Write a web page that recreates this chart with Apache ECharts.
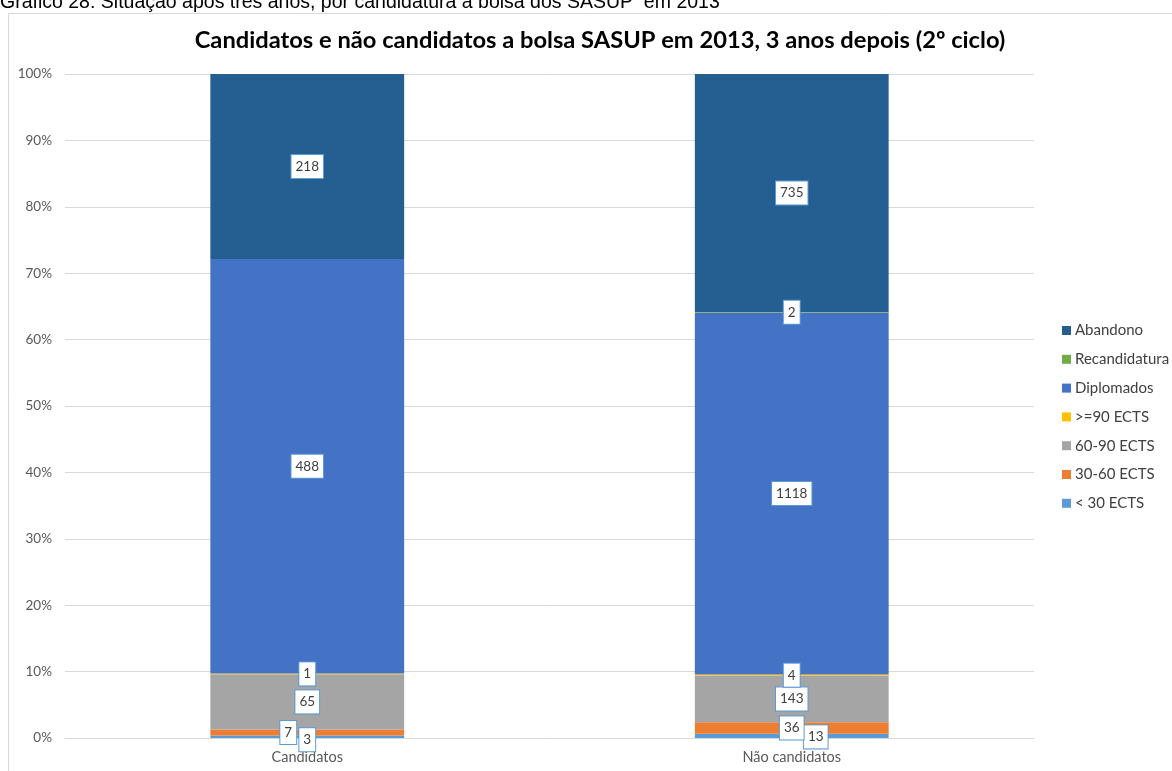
<!DOCTYPE html>
<html>
<head>
<meta charset="utf-8">
<title>Candidatos e não candidatos a bolsa SASUP</title>
<script src="https://cdn.jsdelivr.net/npm/echarts@6/dist/echarts.min.js"></script>
<style>
  html, body { margin: 0; padding: 0; background: #fff; }
  #chart { width: 1172px; height: 771px; }
</style>
</head>
<body>
<div id="chart"></div>
<script>
// categorias e contagens
const categories = ['Candidatos', 'Não candidatos']
const seriesNames = ['< 30 ECTS', '30-60 ECTS', '60-90 ECTS', '>=90 ECTS', 'Diplomados', 'Recandidatura', 'Abandono']
const lt30 = [3, 13]
const ects30_60 = [7, 36]
const ects60_90 = [65, 143]
const ge90 = [1, 4]
const diplomados = [488, 1118]
const recandidatura = [0, 2]
const abandono = [218, 735]
const yTicks = [0, 10, 20, 30, 40, 50, 60, 70, 80, 90, 100]

const counts = [lt30, ects30_60, ects60_90, ge90, diplomados, recandidatura, abandono]
const colors = ['#5b9bd5', '#ed7d31', '#a5a5a5', '#ffc000', '#4472c4', '#70ad47', '#255e91']
// deslocamento de rótulos sobrepostos (como no Excel)
const labelOffsets = {'0-0': [0, 3], '1-0': [-19, 0], '0-1': [24, 1]}

const totals = categories.map((c, i) => counts.reduce((s, arr) => s + arr[i], 0))

const chart = echarts.init(document.getElementById('chart'))

const series = seriesNames.map((name, si) => ({
  name,
  type: 'bar',
  stack: 'total',
  barWidth: '40%',
  itemStyle: {color: colors[si]},
  label: {
    show: true,
    position: 'inside',
    formatter: p => p.data.count,
    color: '#404040',
    fontFamily: 'Lato',
    fontSize: 13.5,
    backgroundColor: '#fff',
    borderColor: '#5b9bd5',
    borderWidth: 1,
    padding: [5, 4, 4, 4]
  },
  data: counts[si].map((n, ci) => {
    const item = {value: n / totals[ci] * 100, count: n}
    const off = labelOffsets[si + '-' + ci]
    if (n === 0) item.label = {show: false}
    else if (off) item.label = {offset: off}
    return item
  })
}))

const option = {
  animation: false,
  textStyle: {fontFamily: 'Lato'},
  title: {
    text: 'Candidatos e não candidatos a bolsa SASUP em 2013, 3 anos depois (2º ciclo)',
    left: 595,
    textAlign: 'center',
    top: 23,
    textStyle: {fontFamily: 'Lato', fontWeight: 'bold', fontSize: 23.7, color: '#000'}
  },
  graphic: [
    {
      type: 'rect',
      shape: {x: 8.5, y: 13.5, width: 1200, height: 800},
      style: {fill: null, stroke: '#d9d9d9', lineWidth: 1},
      silent: true
    },
    {
      type: 'text',
      x: 0,
      y: 13,
      style: {
        text: 'Gráfico 28: Situação após três anos, por candidatura à bolsa dos SASUP  em 2013',
        fontFamily: 'Liberation Sans',
        fontSize: 19.5,
        fill: '#000',
        verticalAlign: 'bottom'
      }
    }
  ],
  legend: {
    orient: 'vertical',
    left: 1057,
    top: 318,
    itemWidth: 9,
    itemHeight: 9,
    itemGap: 13.8,
    icon: 'rect',
    data: seriesNames.slice().reverse(),
    textStyle: {fontFamily: 'Lato', fontSize: 15, color: '#404040', padding: [0, 0, 0, -1]}
  },
  grid: {left: 65, right: 138, top: 74, bottom: 33},
  xAxis: {
    type: 'category',
    data: categories,
    axisTick: {show: false},
    axisLine: {lineStyle: {color: '#d9d9d9'}},
    axisLabel: {color: '#595959', fontSize: 14.5, fontFamily: 'Lato', margin: 12}
  },
  yAxis: {
    type: 'value',
    min: yTicks[0],
    max: yTicks[yTicks.length - 1],
    interval: 10,
    axisLine: {show: false},
    axisTick: {show: false},
    splitLine: {lineStyle: {color: '#d9d9d9'}},
    axisLabel: {color: '#595959', fontSize: 13.5, fontFamily: 'Lato', margin: 13, formatter: '{value}%'}
  },
  series
}

chart.setOption(option)
</script>
</body>
</html>
